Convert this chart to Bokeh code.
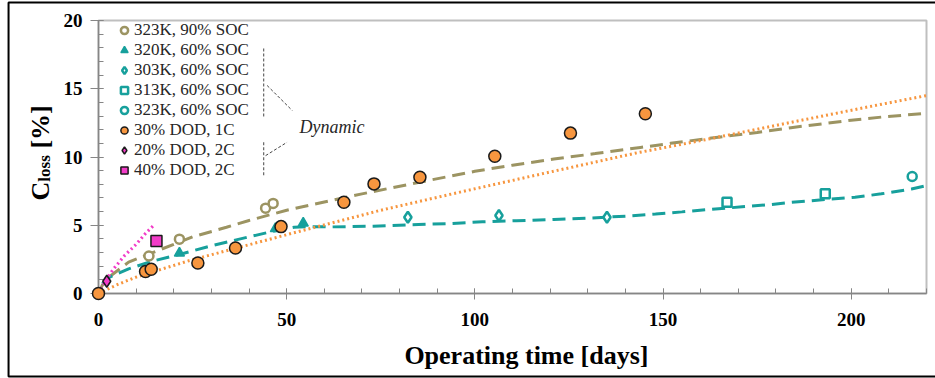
from math import pi
from bokeh.plotting import figure
from bokeh.models import Range1d, FixedTicker, Legend, LegendItem
from bokeh.core.properties import value
from bokeh.embed import file_html
from bokeh.resources import INLINE

# ---------------- data ----------------
# measured points
d_323_90 = [13.4, 21.5, 44.4, 46.4]
c_323_90 = [2.75, 3.98, 6.25, 6.6]
d_320_60 = [21.5, 47.0, 54.4]
c_320_60 = [2.95, 4.75, 5.15]
d_303_60 = [82.2, 106.4, 135.1]
c_303_60 = [5.59, 5.71, 5.59]
d_313_60 = [167.0, 193.1]
c_313_60 = [6.69, 7.3]
d_323_60 = [216.2]
c_323_60 = [8.57]
d_dod30 = [0, 12.5, 14.0, 26.4, 36.4, 48.5, 65.2, 73.2, 85.4, 105.3, 125.4, 145.3]
c_dod30 = [0, 1.61, 1.78, 2.23, 3.33, 4.9, 6.69, 8.03, 8.52, 10.05, 11.75, 13.17]
d_dod20 = [2.2]
c_dod20 = [0.9]
d_dod40 = [15.4]
c_dod40 = [3.85]

# fitted curves
fit_olive_d = [0, 1, 3, 8, 13, 20, 25, 34, 40, 50, 60, 70, 88, 100, 110, 121, 132,
               144, 152, 166, 175, 184, 193, 200, 209, 220]
fit_olive_c = [0, 0.6, 1.25, 2.3, 2.85, 3.6, 4.15, 4.85, 5.35, 6.1, 6.7, 7.3, 8.3, 8.95,
               9.4, 9.85, 10.25, 10.7, 11.0, 11.5, 11.8, 12.15, 12.45, 12.7, 12.95, 13.2]
fit_teal_d = [1, 3, 8, 14, 20, 30, 40, 47, 52, 56, 62, 73, 85, 93, 102, 111, 121, 130,
              141, 148, 155, 162, 171, 178, 183, 193, 201, 208, 216, 220]
fit_teal_c = [0.7, 1.2, 1.8, 2.35, 2.75, 3.5, 4.15, 4.6, 4.85, 4.9, 4.88, 4.93, 5.05, 5.12,
              5.25, 5.33, 5.43, 5.52, 5.68, 5.82, 5.98, 6.15, 6.35, 6.5, 6.65, 6.88, 7.05,
              7.3, 7.65, 7.9]
fit_orange_d = [0, 5, 10, 24, 54, 75, 98, 120, 143, 160, 186, 205, 220]
fit_orange_c = [0, 0.65, 1.2, 2.4, 4.6, 6.1, 7.55, 8.9, 10.3, 11.2, 12.65, 13.7, 14.5]
fit_pink_d = [0, 2, 4, 7, 10, 12.5, 14.7]
fit_pink_c = [0, 1.0, 1.8, 2.8, 3.6, 4.4, 5.0]

x_ticks = [0, 50, 100, 150, 200]
y_ticks = [0, 5, 10, 15, 20]

# annotation ("Dynamic" bracket) positions in data units
brk_x0 = [43.9, 44.8, 43.9, 44.4]
brk_y0 = [17.95, 15.24, 11.08, 10.1]
brk_x1 = [43.9, 51.5, 43.9, 50.1]
brk_y1 = [12.9, 13.4, 8.65, 11.08]

# ---------------- style ----------------
OLIVE = "#9C9462"
TEAL = "#17A09C"
ORANGE = "#F7963F"
PINK = "#F23CC8"
AXIS = "#868686"
SERIF = "Liberation Serif"

p = figure(width=935, height=378, x_range=Range1d(0, 220), y_range=Range1d(0, 20),
           output_backend="svg", toolbar_location=None,
           min_border_left=98, min_border_right=9, min_border_top=20, min_border_bottom=85)
p.xgrid.visible = False
p.ygrid.visible = False
p.outline_line_color = "#BFBFBF"
p.outline_line_width = 2
p.background_fill_color = "white"
p.border_fill_color = "white"

p.xaxis.ticker = FixedTicker(ticks=x_ticks, minor_ticks=list(range(0, 221, 10)))
p.yaxis.ticker = FixedTicker(ticks=y_ticks, minor_ticks=list(range(0, 21)))
for ax in (p.xaxis, p.yaxis):
    ax.axis_line_color = AXIS
    ax.axis_line_width = 1.5
    ax.major_tick_line_color = AXIS
    ax.minor_tick_line_color = AXIS
    ax.major_tick_line_width = 1
    ax.minor_tick_line_width = 1
    ax.major_tick_in = 5
    ax.minor_tick_in = 5
    ax.minor_tick_out = 0
    ax.major_label_text_font = SERIF
    ax.major_label_text_font_style = "bold"
    ax.major_label_text_font_size = "19px"
    ax.major_label_text_color = "black"
p.xaxis.major_tick_out = 6
p.yaxis.major_tick_out = 8
p.xaxis.major_label_standoff = 13
p.yaxis.major_label_standoff = 8

# ---------------- fitted lines ----------------
p.line(fit_olive_d, fit_olive_c, line_color=OLIVE, line_width=3, line_dash="13 7")
p.line(fit_teal_d, fit_teal_c, line_color=TEAL, line_width=3, line_dash="13 7")
p.line(fit_orange_d, fit_orange_c, line_color=ORANGE, line_width=3, line_dash="2 3")
p.line(fit_pink_d, fit_pink_c, line_color=PINK, line_width=3.2, line_dash="2 3")

# bracket annotation lines
p.segment(x0=brk_x0, y0=brk_y0, x1=brk_x1, y1=brk_y1, line_color="#444444",
          line_width=1, line_dash="3 2")

# ---------------- markers ----------------
r1 = p.scatter(d_323_90, c_323_90, marker="circle", size=9, fill_color="white",
               line_color=OLIVE, line_width=2.5, level="overlay")
r2 = p.scatter(d_320_60, c_320_60, marker="triangle", size=10, fill_color=TEAL,
               line_color=TEAL, line_width=1.5, level="overlay")
r3 = p.scatter(d_303_60, c_303_60, marker="diamond", size=11, fill_color="white",
               line_color=TEAL, line_width=2.5, level="overlay")
r4 = p.scatter(d_313_60, c_313_60, marker="square", size=9, fill_color="white",
               line_color=TEAL, line_width=2.5, level="overlay")
r5 = p.scatter(d_323_60, c_323_60, marker="circle", size=9, fill_color="white",
               line_color=TEAL, line_width=2.5, level="overlay")
r6 = p.scatter(d_dod30, c_dod30, marker="circle", size=12, fill_color=ORANGE,
               line_color="#1a1a1a", line_width=1.5, level="overlay")
r7 = p.scatter(d_dod20, c_dod20, marker="diamond", size=12, fill_color=PINK,
               line_color="#1a1a1a", line_width=1.5, level="overlay")
r8 = p.scatter(d_dod40, c_dod40, marker="square", size=11, fill_color=PINK,
               line_color="#1a1a1a", line_width=1.5, level="overlay")

legend = Legend(items=[
    LegendItem(label="323K, 90% SOC", renderers=[r1]),
    LegendItem(label="320K, 60% SOC", renderers=[r2]),
    LegendItem(label="303K, 60% SOC", renderers=[r3]),
    LegendItem(label="313K, 60% SOC", renderers=[r4]),
    LegendItem(label="323K, 60% SOC", renderers=[r5]),
    LegendItem(label="30% DOD, 1C", renderers=[r6]),
    LegendItem(label="20% DOD, 2C", renderers=[r7]),
    LegendItem(label="40% DOD, 2C", renderers=[r8]),
], location=(16, 113), orientation="vertical", padding=0, spacing=0, margin=0,
    glyph_width=20, glyph_height=18, label_height=18, label_standoff=0,
    label_text_font=SERIF, label_text_font_size="17px", label_text_color="#262626",
    border_line_alpha=0, background_fill_alpha=0)
p.add_layout(legend)

# ---------------- texts (glyph text, overlay level so nothing is clipped) -------------
def add_text(x, y, s, size, style="bold", angle=0.0, align="left", baseline="alphabetic",
             color="black"):
    p.text(x=[x], y=[y], text=[s], angle=angle, text_font=value(SERIF),
           text_font_style=style, text_font_size=value(size), text_color=color,
           text_align=align, text_baseline=baseline, level="overlay")

add_text(53.4, 12.18, "Dynamic", "18px", style="italic", baseline="middle",
         color="#262626")
# x-axis title
add_text(113.7, -4.55, "Operating time [days]", "26px", align="center",
         baseline="middle")
# y-axis title C_loss [%] (with subscript)
add_text(-15.41, 6.81, "C", "26px", angle=pi / 2)
add_text(-14.35, 8.19, "loss", "17px", angle=pi / 2)
add_text(-15.41, 10.62, "[%]", "26px", angle=pi / 2)

# outer picture border
p.quad(left=[-23.9], right=[223.9], top=[21.32], bottom=[-6.08], fill_alpha=0,
       line_color="black", line_width=2, level="overlay")

open("out.html", "w").write(file_html(p, INLINE))
